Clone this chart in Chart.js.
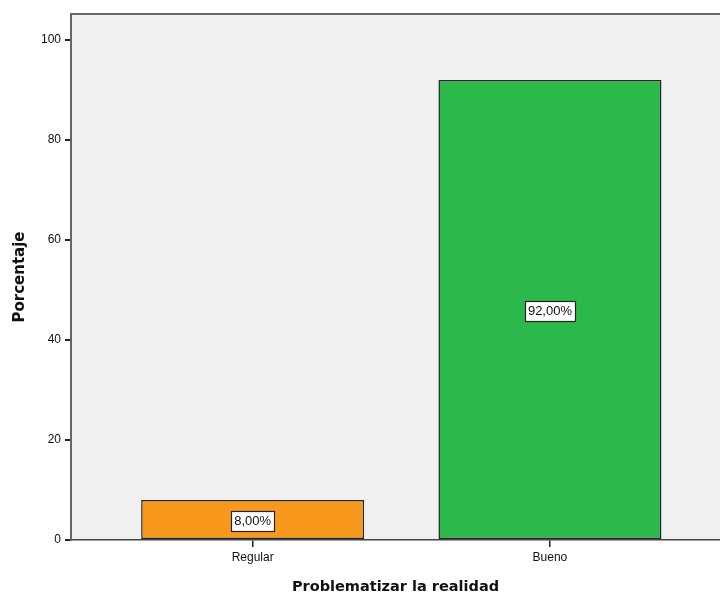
<!DOCTYPE html>
<html>
<head>
<meta charset="utf-8">
<script src="https://cdn.jsdelivr.net/npm/chart.js@4/dist/chart.umd.min.js"></script>
<style>
  html, body { margin: 0; padding: 0; background: #fff; }
  #wrap { width: 720px; height: 596px; }
</style>
</head>
<body>
<div id="wrap"><canvas id="grafico"></canvas></div>
<script>
// datos del gráfico
const categorias = ['Regular', 'Bueno'];
const porcentajes = [8, 92];
const etiquetas = ['8,00%', '92,00%'];
const coloresBarra = ['#F8991E', '#2DB84B'];
const ticksY = [0, 20, 40, 60, 80, 100];

// fondo gris y marco del área de trazado
const fondoArea = {
    id: 'fondoArea',
    beforeDraw(chart) {
        const a = chart.chartArea, ctx = chart.ctx;
        ctx.save();
        ctx.fillStyle = '#F0F0F0';
        ctx.fillRect(a.left, a.top, a.right - a.left, a.bottom - a.top);
        ctx.strokeStyle = '#666';
        ctx.lineWidth = 2;
        ctx.beginPath();
        ctx.moveTo(a.left, a.bottom);
        ctx.lineTo(a.left, a.top);
        ctx.lineTo(a.right, a.top);
        ctx.stroke();
        ctx.restore();
    }
};

// etiquetas con caja blanca en el centro de cada barra
const etiquetasBarra = {
    id: 'etiquetasBarra',
    afterDatasetsDraw(chart) {
        const ctx = chart.ctx;
        const meta = chart.getDatasetMeta(0);
        ctx.save();
        ctx.font = '13px "Liberation Sans", Arial, sans-serif';
        ctx.textAlign = 'center';
        ctx.textBaseline = 'middle';
        meta.data.forEach(function (bar, i) {
            const txt = etiquetas[i];
            const cy = (bar.y + bar.base) / 2 + 1;
            const w = Math.round(ctx.measureText(txt).width + 6);
            const h = 20;
            const x0 = Math.round(bar.x - w / 2) + 0.5;
            const y0 = Math.round(cy - h / 2) + 0.5;
            ctx.fillStyle = '#fff';
            ctx.fillRect(x0, y0, w, h);
            ctx.strokeStyle = '#222';
            ctx.lineWidth = 1.2;
            ctx.strokeRect(x0, y0, w, h);
            ctx.fillStyle = '#111';
            ctx.fillText(txt, bar.x, cy + 1);
        });
        ctx.restore();
    }
};

const ctx = document.getElementById('grafico').getContext('2d');
const chart = new Chart(ctx, {
    type: 'bar',
    data: {
        datasets: [{
            data: porcentajes.map(function (v, i) { return { x: i, y: v }; }),
            backgroundColor: coloresBarra,
            borderColor: '#262626',
            borderWidth: 1.5,
            borderSkipped: false,
            barPercentage: 0.75,
            categoryPercentage: 1
        }]
    },
    options: {
        responsive: true,
        maintainAspectRatio: false,
        animation: false,
        layout: { padding: { top: 14, left: 0, right: 0, bottom: 0 } },
        plugins: { legend: { display: false }, tooltip: { enabled: false } },
        scales: {
            x: {
                type: 'linear',
                offset: false,
                min: -0.611,
                max: 1.572,
                afterBuildTicks: function (scale) {
                    scale.ticks = categorias.map(function (c, i) { return { value: i }; });
                },
                afterFit: function (scale) { scale.height = 56; },
                ticks: {
                    autoSkip: false,
                    maxRotation: 0,
                    padding: 3,
                    color: '#111',
                    font: { family: '"Liberation Sans", Arial, sans-serif', size: 12 },
                    callback: function (v) { return categorias[v]; }
                },
                grid: { offset: false, drawOnChartArea: false, drawTicks: true, tickLength: 7, color: '#222', lineWidth: 1.5 },
                border: { display: true, color: '#444', width: 1.5 },
                title: {
                    display: true,
                    text: 'Problematizar la realidad',
                    color: '#111',
                    padding: { top: 0, bottom: 0 },
                    font: { family: '"DejaVu Sans", sans-serif', size: 14.5, weight: 'bold' }
                }
            },
            y: {
                min: 0,
                max: 105.2,
                afterBuildTicks: function (scale) {
                    scale.ticks = ticksY.map(function (v) { return { value: v }; });
                },
                afterFit: function (scale) { scale.width = 71; },
                ticks: {
                    padding: 4,
                    color: '#111',
                    font: { family: '"Liberation Sans", Arial, sans-serif', size: 12 }
                },
                grid: { drawOnChartArea: false, drawTicks: true, tickLength: 6, color: '#222', lineWidth: 2 },
                border: { display: true, color: '#666', width: 2 },
                title: {
                    display: true,
                    text: 'Porcentaje',
                    color: '#111',
                    padding: { top: 11, bottom: 0 },
                    font: { family: '"DejaVu Sans", sans-serif', size: 15, weight: 'bold' }
                }
            }
        }
    },
    plugins: [fondoArea, etiquetasBarra]
});
</script>
</body>
</html>
